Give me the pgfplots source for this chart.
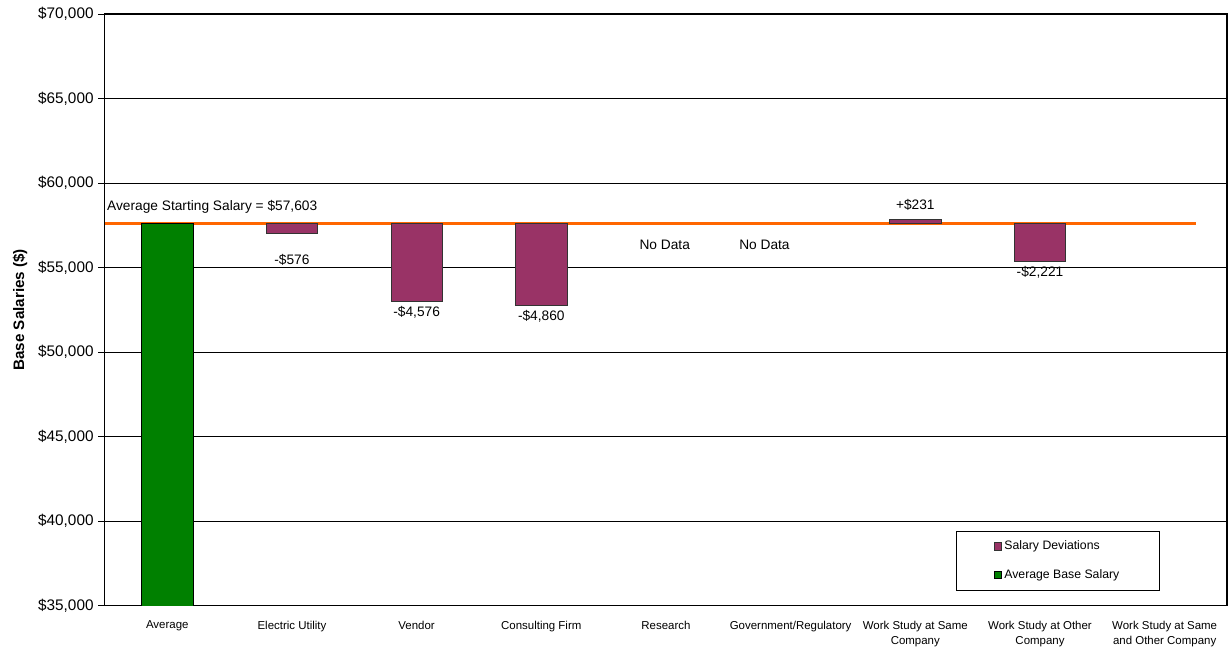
\documentclass[border=0pt]{standalone}
\usepackage{fontspec}
\setmainfont{Liberation Sans}
\usepackage{pgfplots}
\pgfplotsset{compat=1.18}
\usetikzlibrary{calc}
\definecolor{plum}{HTML}{993366}
\definecolor{exgreen}{HTML}{008000}
\definecolor{exorange}{HTML}{FF6600}
\pgfplotsset{commonaxis/.style={
  scale only axis,
  width=842pt, height=444pt,
  xmin=-0.5, xmax=8.5,
  ymin=35000, ymax=70000,
}}
\begin{document}
\begin{tikzpicture}
\begin{axis}[
  commonaxis,
  ybar stacked,
  bar width=0.41,
  ytick={35000,40000,...,70000},
  scaled y ticks=false,
  ymajorgrids,
  grid style={black, line width=0.6pt},
  axis line style={black, line width=0.8pt},
  xtick={0,...,8},
  xticklabels={Average, Electric Utility, Vendor, Consulting Firm, Research, Government/Regulatory, {Work Study at Same\\Company}, {Work Study at Other\\Company}, {Work Study at Same\\and Other Company}},
  x tick label style={font=\fontsize{8.6}{11}\selectfont, align=center, anchor=north, yshift=-3pt},
  major x tick style={draw=none},
  extra x ticks={0.5,1.5,...,7.5},
  extra x tick labels={},
  extra x tick style={major tick length=5pt, tick align=outside, tick pos=left, major tick style={black, line width=0.6pt}, grid=none},
  y tick label style={font=\fontsize{11.5}{13}\selectfont},
  yticklabel={\$\pgfmathprintnumber{\tick}},
  /pgf/number format/.cd, fixed, 1000 sep={,}, assume math mode=true,
  /pgfplots/.cd,
  tick align=outside,
  tick pos=left,
  major tick length=5pt,
  ytick style={black, line width=0.6pt},
  ylabel={Base Salaries (\$)},
  every axis y label/.style={at={(axis description cs:-0.0757,0.5)}, rotate=90, anchor=center,
    font=\fontsize{11.4}{13}\selectfont\bfseries},
  legend style={at={(0.940,0.127)}, anchor=north east, draw=black, line width=0.6pt,
    font=\fontsize{9.2}{11}\selectfont, inner xsep=28pt, inner ysep=5.5pt, row sep=9pt, cells={anchor=west}},
  legend image code/.code={\draw[#1, line width=0.4pt] (0pt,-2.8pt) rectangle (5.6pt,2.8pt);},
]
% invisible base
\addplot[fill=none, draw=none, forget plot] coordinates {
 (0,0) (1,57027) (2,53027) (3,52743) (4,0) (5,0) (6,57603) (7,55382) (8,0)};
% deviations
\addplot[fill=plum, draw=black!80, line width=0.5pt] coordinates {
 (0,0) (1,576) (2,4576) (3,4860) (4,0) (5,0) (6,231) (7,2221) (8,0)};
\addlegendentry{Salary Deviations}
% average
\addplot[fill=exgreen, draw=black, line width=0.5pt] coordinates {
 (0,57603) (1,0) (2,0) (3,0) (4,0) (5,0) (6,0) (7,0) (8,0)};
\addlegendentry{Average Base Salary}
% average line
\addplot[stack plots=false, sharp plot, exorange, line width=2.4pt, forget plot] coordinates {(-0.5,57603) (8.25,57603)};
\end{axis}
\begin{axis}[commonaxis, hide axis, clip=false]
\addplot[only marks, mark=*, mark size=0pt, mark options={draw=none, fill=none},
  nodes near coords, point meta=explicit symbolic,
  every node near coord/.append style={font=\fontsize{10.3}{12}\selectfont, anchor=center, text=black}]
  coordinates {
  (1,55450) [-\$576]
  (2,52370) [-\$4,576]
  (3,52100) [-\$4,860]
  (3.99,56343) [No Data]
  (4.79,56343) [No Data]
  (6,58708) [+\$231]
  (7,54740) [-\$2,221]
};
\addplot[only marks, mark=*, mark size=0pt, mark options={draw=none, fill=none},
  nodes near coords, point meta=explicit symbolic,
  every node near coord/.append style={font=\fontsize{10.3}{12}\selectfont, anchor=west, text=black, inner xsep=1.5pt}]
  coordinates {(-0.5,58590) [Average Starting Salary = \$57,603]};
\end{axis}
\pgfresetboundingbox
\path ($(current axis.south west)+(-78.75pt,-33pt)$) rectangle ($(current axis.north east)+(0.75pt,10.5pt)$);
\end{tikzpicture}
\end{document}
